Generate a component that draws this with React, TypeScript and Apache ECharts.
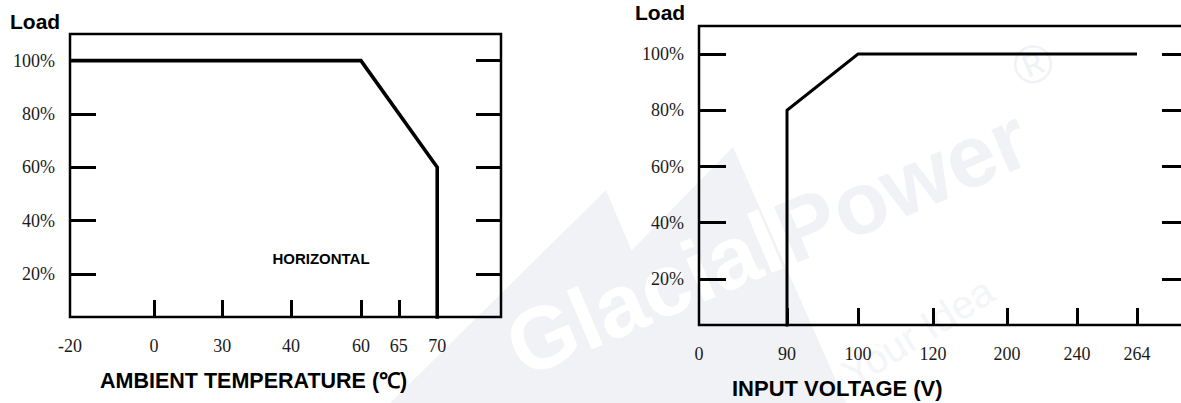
import React, { useEffect, useRef } from "react";
import * as echarts from "echarts";

// Shared load ticks (%)
const loadTicks = [20, 40, 60, 80, 100];

// Left chart: load vs ambient temperature (non-linear temperature axis)
const tempTickLabels = [-20, 0, 30, 40, 60, 65, 70];
const tempAxisStops = [0, 19.5, 35.3, 51.3, 67.5, 76.3, 85.2]; // axis scale stops, % of axis length
const tempCurveX = [-20, 60, 70, 70];
const tempCurveLoad = [100, 100, 60, 0];

// Right chart: load vs input voltage (non-linear voltage axis)
const voltTickLabels = [0, 90, 100, 120, 200, 240, 264];
const voltAxisStops = [0, 17.96, 32.45, 47.76, 62.86, 77.14, 89.39];
const voltCurveX = [90, 90, 100, 264];
const voltCurveLoad = [0, 80, 100, 100];

function toStop(v: number, labels: number[], stops: number[]): number {
  for (let i = 0; i < labels.length - 1; i++) {
    if (v <= labels[i + 1]) {
      const t = (v - labels[i]) / (labels[i + 1] - labels[i]);
      return stops[i] + t * (stops[i + 1] - stops[i]);
    }
  }
  return stops[stops.length - 1];
}

const SERIF = '"Liberation Serif", "Times New Roman", serif';
const SANS = '"Liberation Sans", Arial, sans-serif';
const LABEL_COLOR = "#1a1a1a";

function xAxisFor(gridIndex: number, labels: number[], stops: number[]) {
  return {
    type: "value",
    gridIndex,
    min: 0,
    max: 100,
    axisLine: { show: false },
    splitLine: { show: false },
    axisTick: {
      show: true,
      inside: true,
      length: 17,
      customValues: stops.slice(1),
      lineStyle: { color: "#000", width: 3 },
    },
    axisLabel: {
      show: true,
      customValues: stops,
      margin: 20,
      fontFamily: SERIF,
      fontSize: 18,
      color: LABEL_COLOR,
      formatter: (val: number) => {
        const i = stops.findIndex((s) => Math.abs(s - val) < 0.01);
        return i >= 0 ? String(labels[i]) : "";
      },
    },
  };
}

function yAxisFor(gridIndex: number, position: string, min: number, tickLen: number, showLabel: boolean) {
  return {
    type: "value",
    gridIndex,
    position,
    min,
    max: 110,
    axisLine: { show: false },
    splitLine: { show: false },
    axisTick: {
      show: true,
      inside: true,
      length: tickLen,
      customValues: loadTicks,
      lineStyle: { color: "#000", width: 3 },
    },
    axisLabel: {
      show: showLabel,
      customValues: loadTicks,
      formatter: "{value}%",
      margin: 15,
      fontFamily: SERIF,
      fontSize: 18,
      color: LABEL_COLOR,
    },
  };
}

export default function App() {
  const ref = useRef<HTMLDivElement>(null);

  useEffect(() => {
    if (!ref.current) return;
    const chart = echarts.init(ref.current, null, { renderer: "svg" });
    const deg = Math.PI / 180;
    const wm = "#f1f2f6";
    const wmLight = "#f4f5f8";

    const option: any = {
      animation: false,
      backgroundColor: "#fff",
      grid: [
        {
          left: 70, top: 34, width: 431, height: 283,
          show: true, borderColor: "#000", borderWidth: 2.5, backgroundColor: "transparent",
          outerBoundsMode: "none", containLabel: false,
        },
        {
          left: 699, top: 26, width: 490, height: 299,
          show: true, borderColor: "#000", borderWidth: 2.5, backgroundColor: "transparent",
          outerBoundsMode: "none", containLabel: false,
        },
      ],
      xAxis: [xAxisFor(0, tempTickLabels, tempAxisStops), xAxisFor(1, voltTickLabels, voltAxisStops)],
      yAxis: [
        yAxisFor(0, "left", 3.8, 26, true),
        yAxisFor(0, "right", 3.8, 25, false),
        yAxisFor(1, "left", 3.6, 27, true),
        yAxisFor(1, "right", 3.6, 27, false),
      ],
      series: [
        {
          type: "line",
          xAxisIndex: 0,
          yAxisIndex: 0,
          symbol: "none",
          clip: true,
          lineStyle: { color: "#000", width: 3.6, join: "miter" },
          data: tempCurveX.map((t, i) => [toStop(t, tempTickLabels, tempAxisStops), tempCurveLoad[i]]),
          z: 5,
        },
        {
          type: "line",
          xAxisIndex: 1,
          yAxisIndex: 2,
          symbol: "none",
          clip: true,
          lineStyle: { color: "#000", width: 3, join: "miter" },
          data: voltCurveX.map((v, i) => [toStop(v, voltTickLabels, voltAxisStops), voltCurveLoad[i]]),
          z: 5,
        },
      ],
      graphic: [
        // faint watermark
        { type: "polygon", z: -10, silent: true, shape: { points: [[390, 403], [606, 190], [696, 403]] }, style: { fill: wm } },
        { type: "polygon", z: -10, silent: true, shape: { points: [[482, 403], [733, 147], [846, 403]] }, style: { fill: wm } },
        {
          type: "text", z: -9, silent: true, x: 644, y: 294, rotation: 23 * deg,
          style: { text: "Glacial", align: "center", verticalAlign: "middle", font: `bold 88px ${SANS}`, fill: "#fff" },
        },
        {
          type: "text", z: -9, silent: true, x: 902, y: 185, rotation: 23 * deg,
          style: { text: "Power", align: "center", verticalAlign: "middle", font: `bold 88px ${SANS}`, fill: wm },
        },
        {
          type: "text", z: -9, silent: true, x: 918, y: 332, rotation: 32 * deg,
          style: { text: "Your Idea", align: "center", verticalAlign: "middle", font: `40px ${SANS}`, fill: wmLight },
        },
        {
          type: "text", z: -9, silent: true, x: 1033, y: 64, rotation: 23 * deg,
          style: { text: "®", align: "center", verticalAlign: "middle", font: `54px ${SANS}`, fill: wm },
        },
        // titles and annotations
        {
          type: "text", x: 10, y: 21.5,
          style: { text: "Load", align: "left", verticalAlign: "middle", font: `bold 21px ${SANS}`, fill: "#000" },
        },
        {
          type: "text", x: 635, y: 12.5,
          style: { text: "Load", align: "left", verticalAlign: "middle", font: `bold 21px ${SANS}`, fill: "#000" },
        },
        {
          type: "text", x: 321, y: 258,
          style: { text: "HORIZONTAL", align: "center", verticalAlign: "middle", font: `bold 15px ${SANS}`, fill: "#000" },
        },
        {
          type: "text", x: 100, y: 381,
          style: { text: "AMBIENT TEMPERATURE (℃)", align: "left", verticalAlign: "middle", font: `bold 21.5px ${SANS}`, fill: "#000" },
        },
        {
          type: "text", x: 732, y: 388,
          style: { text: "INPUT VOLTAGE (V)", align: "left", verticalAlign: "middle", font: `bold 22px ${SANS}`, fill: "#000" },
        },
      ],
    };

    chart.setOption(option);
    return () => chart.dispose();
  }, []);

  return (
    <div
      ref={ref}
      style={{ position: "absolute", left: 0, top: 0, width: 1181, height: 403, background: "#fff" }}
    />
  );
}
